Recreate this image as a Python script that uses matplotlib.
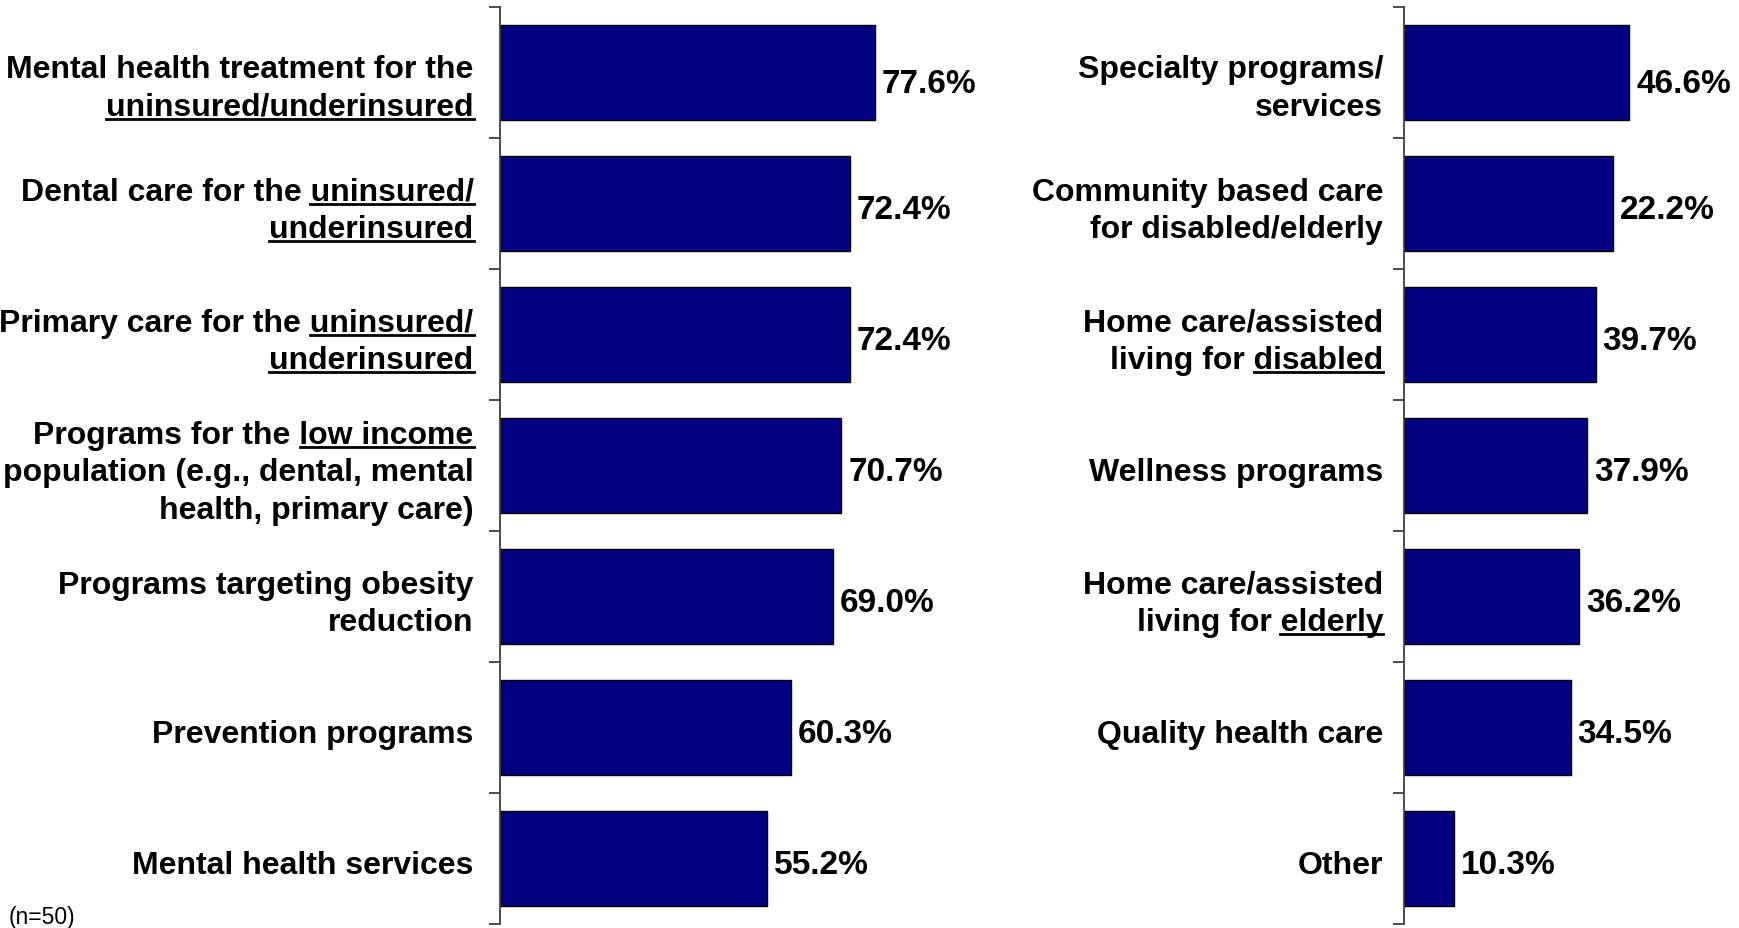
import numpy as np
import matplotlib.pyplot as plt
from matplotlib.lines import Line2D

plt.rcParams['font.family'] = ['Liberation Sans', 'DejaVu Sans']

# ---------------------------------------------
#  Data (each label line = (plain part, underlined part))
# ---------------------------------------------
left_labels = [
    [("Mental health treatment for the", ""), ("", "uninsured/underinsured")],
    [("Dental care for the ", "uninsured/"), ("", "underinsured")],
    [("Primary care for the ", "uninsured/"), ("", "underinsured")],
    [("Programs for the ", "low income"), ("population (e.g., dental, mental", ""),
     ("health, primary care)", "")],
    [("Programs targeting obesity", ""), ("reduction", "")],
    [("Prevention programs", "")],
    [("Mental health services", "")],
]
left_values = [77.6, 72.4, 72.4, 70.7, 69.0, 60.3, 55.2]
left_texts = ["77.6%", "72.4%", "72.4%", "70.7%", "69.0%", "60.3%", "55.2%"]

right_labels = [
    [("Specialty programs/", ""), ("services", "")],
    [("Community based care", ""), ("for disabled/elderly", "")],
    [("Home care/assisted", ""), ("living for ", "disabled")],
    [("Wellness programs", "")],
    [("Home care/assisted", ""), ("living for ", "elderly")],
    [("Quality health care", "")],
    [("Other", "")],
]
# bar lengths as drawn in the picture (second bar is drawn longer than its label says)
right_values = [46.6, 43.2, 39.7, 37.9, 36.2, 34.5, 10.3]
right_texts = ["46.6%", "22.2%", "39.7%", "37.9%", "36.2%", "34.5%", "10.3%"]

BAR_COLOR = '#000080'
AXIS_COLOR = '#404040'
LABEL_SIZE = 23
VALUE_SIZE = 24
LINE_PTS = 27.0      # line spacing of category labels, in points

fig = plt.figure(figsize=(17.39, 9.29), dpi=100)
ax_l = fig.add_axes([0.2875, 0.0043, 0.2777, 0.9871])
ax_r = fig.add_axes([0.8074, 0.0043, 0.1888, 0.9871])

underlined = []  # (text artist, underlined suffix)


def draw_panel(ax, labels, values, texts, xmax, gap):
    y = np.arange(len(values))
    ax.barh(y, values, height=0.72, color=BAR_COLOR, edgecolor='black', linewidth=1)
    ax.set_xlim(0, xmax)
    ax.set_ylim(len(values) - 0.5, -0.5)
    ax.set_yticks(np.arange(len(values) + 1) - 0.5)
    ax.set_yticklabels([])
    ax.set_xticks([])
    for s in ['top', 'right', 'bottom']:
        ax.spines[s].set_visible(False)
    ax.spines['left'].set_color(AXIS_COLOR)
    ax.spines['left'].set_linewidth(1.3)
    ax.tick_params(axis='y', length=8, width=1.3, color=AXIS_COLOR)

    # value labels (the top row sits a little lower in the original)
    for yi, v, t in zip(y, values, texts):
        shift = -8 if yi == 0 else -4.5
        ax.annotate(t, xy=(v, yi), xytext=(5, shift), textcoords='offset points',
                    ha='left', va='center', fontsize=VALUE_SIZE, fontweight='bold')

    # category labels, one text per line
    for yi, lines in zip(y, labels):
        n = len(lines)
        shift = -11 if yi == 0 else -5
        for k, (plain, under) in enumerate(lines):
            dy = ((n - 1) / 2 - k) * LINE_PTS + shift
            t = ax.annotate(plain + under, xy=(0, yi), xycoords=('axes fraction', 'data'),
                            xytext=(-gap, dy), textcoords='offset points',
                            ha='right', va='center', fontsize=LABEL_SIZE, fontweight='bold')
            if under:
                underlined.append((t, under))


draw_panel(ax_l, left_labels, left_values, left_texts, 100, 19)
draw_panel(ax_r, right_labels, right_values, right_texts, 68, 15)

fig.text(9 / 1739, 1 - 918 / 929, "(n=50)", fontsize=16.5, va='center', ha='left')

# underline the marked parts
fig.canvas.draw()
renderer = fig.canvas.get_renderer()
inv = fig.transFigure.inverted()
for t, under in underlined:
    bb = t.get_window_extent(renderer)
    tmp = fig.text(0, 0, under, fontsize=LABEL_SIZE, fontweight='bold')
    w = tmp.get_window_extent(renderer).width
    tmp.remove()
    yline = bb.y0 + 3.0
    (x0, y0), (x1, y1) = inv.transform([(bb.x1 - w, yline), (bb.x1, yline)])
    fig.add_artist(Line2D([x0, x1], [y0, y1], color='black', linewidth=2.0,
                          transform=fig.transFigure))

fig.savefig('out.png', dpi=100)
